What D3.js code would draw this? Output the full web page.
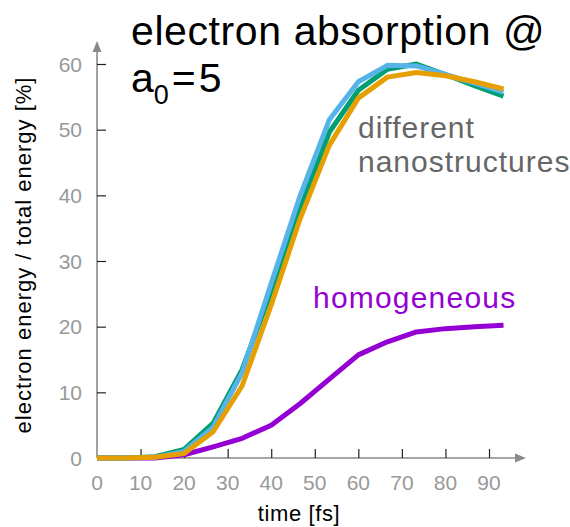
<!DOCTYPE html>
<html>
<head>
<meta charset="utf-8">
<script src="https://cdn.jsdelivr.net/npm/d3@7"></script>
<style>
	body { margin: 0; background: #fff; }
	svg text { font-family: "Liberation Sans", Arial, sans-serif; }
</style>
</head>
<body>
<div id="svg-div"></div>
<script>
// data
var time = [0, 6.67, 13.33, 20, 26.67, 33.33, 40, 46.67, 53.33, 60, 66.67, 73.33, 80, 86.67, 93.33];
var blueSeries = [0, 0, 0.1, 1.0, 4.7, 13.0, 26.6, 40.0, 51.5, 57.3, 59.8, 59.7, 58.4, 57.1, 55.7];
var greenSeries = [0, 0, 0.2, 1.3, 5.3, 13.5, 25.3, 38.0, 49.6, 56.0, 59.2, 60.0, 58.4, 56.7, 55.1];
var orangeSeries = [0, 0, 0.1, 0.7, 4.0, 11.0, 23.3, 36.5, 47.6, 54.8, 58.0, 58.7, 58.2, 57.3, 56.2];
var homogeneous = [0, 0, 0, 0.5, 1.7, 3.0, 5.0, 8.3, 12.0, 15.7, 17.7, 19.2, 19.7, 20.0, 20.2];
var xTicks = [0, 10, 20, 30, 40, 50, 60, 70, 80, 90];
var yTicks = [0, 10, 20, 30, 40, 50, 60];

var chartProperties = {
	outerWidth: 570,
	outerHeight: 527
};

var svg = d3.select("#svg-div")
	.append("svg")
	.attr("width", chartProperties.outerWidth)
	.attr("height", chartProperties.outerHeight);

// Scale
var xScale = d3.scaleLinear()
	.domain([0, 90])
	.range([97, 489]);

var yScale = d3.scaleLinear()
	.domain([0, 60])
	.range([458, 64]);

var axisColor = "#8a8a8a";

// Axis lines with arrows
svg.append("line")
	.attr("x1", xScale(0)).attr("y1", yScale(0))
	.attr("x2", 520).attr("y2", yScale(0))
	.attr("stroke", axisColor).attr("stroke-width", 1.6);
svg.append("path")
	.attr("d", "M526," + yScale(0) + " L515," + (yScale(0) - 4.5) + " L515," + (yScale(0) + 4.5) + " Z")
	.attr("fill", axisColor);

svg.append("line")
	.attr("x1", xScale(0)).attr("y1", yScale(0))
	.attr("x2", xScale(0)).attr("y2", 47)
	.attr("stroke", axisColor).attr("stroke-width", 1.6);
svg.append("path")
	.attr("d", "M" + xScale(0) + ",41 L" + (xScale(0) - 4.5) + ",52 L" + (xScale(0) + 4.5) + ",52 Z")
	.attr("fill", axisColor);

// Ticks (inward)
var xAxis = d3.axisTop(xScale)
	.tickValues(xTicks.slice(1))
	.tickSize(9)
	.tickFormat("");
svg.append("g")
	.attr("transform", "translate(0," + yScale(0) + ")")
	.call(xAxis)
	.call(function(g) { g.select(".domain").remove(); })
	.selectAll("line").attr("stroke", "#222").attr("stroke-width", 1.2);

var yAxis = d3.axisRight(yScale)
	.tickValues(yTicks.slice(1))
	.tickSize(9)
	.tickFormat("");
svg.append("g")
	.attr("transform", "translate(" + xScale(0) + ",0)")
	.call(yAxis)
	.call(function(g) { g.select(".domain").remove(); })
	.selectAll("line").attr("stroke", "#222").attr("stroke-width", 1.2);

// Tick labels
svg.selectAll(".xlab")
	.data(xTicks)
	.enter()
	.append("text")
	.attr("class", "xlab")
	.attr("x", function(d) { return xScale(d); })
	.attr("y", 490)
	.attr("text-anchor", "middle")
	.attr("font-size", 21)
	.attr("fill", "#999")
	.text(function(d) { return d; });

svg.selectAll(".ylab")
	.data(yTicks)
	.enter()
	.append("text")
	.attr("class", "ylab")
	.attr("x", 82)
	.attr("y", function(d) { return yScale(d) + 7.5; })
	.attr("text-anchor", "end")
	.attr("font-size", 21)
	.attr("fill", "#999")
	.text(function(d) { return d; });

// Axis titles
svg.append("text")
	.attr("x", 299)
	.attr("y", 521)
	.attr("text-anchor", "middle")
	.attr("font-size", 22)
	.attr("letter-spacing", 0.6)
	.attr("fill", "#000")
	.text("time [fs]");

svg.append("text")
	.attr("transform", "translate(31,255) rotate(-90)")
	.attr("text-anchor", "middle")
	.attr("font-size", 22)
	.attr("letter-spacing", 1)
	.attr("fill", "#000")
	.text("electron energy / total energy [%]");

// Lines
var series = [
	{ values: homogeneous, color: "#9400d3" },
	{ values: greenSeries, color: "#009e73" },
	{ values: blueSeries, color: "#56b4e9" },
	{ values: orangeSeries, color: "#e69f00" }
];

var line = d3.line()
	.x(function(d) { return xScale(d[0]); })
	.y(function(d) { return yScale(d[1]); });

svg.selectAll(".series")
	.data(series)
	.enter()
	.append("path")
	.attr("class", "series")
	.attr("fill", "none")
	.attr("stroke", function(d) { return d.color; })
	.attr("stroke-width", 5)
	.attr("stroke-linejoin", "round")
	.attr("d", function(d) {
		return line(time.map(function(t, i) { return [t, d.values[i]]; }));
	});

// Annotations
svg.append("text")
	.attr("x", 131)
	.attr("y", 45)
	.attr("font-size", 41)
	.attr("letter-spacing", 0.6)
	.attr("fill", "#000")
	.text("electron absorption @");

var sub = svg.append("text")
	.attr("x", 131)
	.attr("y", 92)
	.attr("font-size", 41)
	.attr("fill", "#000");
sub.append("tspan").text("a");
sub.append("tspan").attr("dy", 12).attr("font-size", 27).text("0");
sub.append("tspan").attr("dy", -12).attr("dx", 3).attr("letter-spacing", 3).text("=5");

svg.append("text")
	.attr("x", 358)
	.attr("y", 138)
	.attr("font-size", 30)
	.attr("letter-spacing", 1)
	.attr("fill", "#666")
	.text("different");

svg.append("text")
	.attr("x", 358)
	.attr("y", 172)
	.attr("font-size", 30)
	.attr("letter-spacing", 1)
	.attr("fill", "#666")
	.text("nanostructures");

svg.append("text")
	.attr("x", 313)
	.attr("y", 308)
	.attr("font-size", 30)
	.attr("letter-spacing", 1.2)
	.attr("fill", "#9400d3")
	.text("homogeneous");
</script>
</body>
</html>
